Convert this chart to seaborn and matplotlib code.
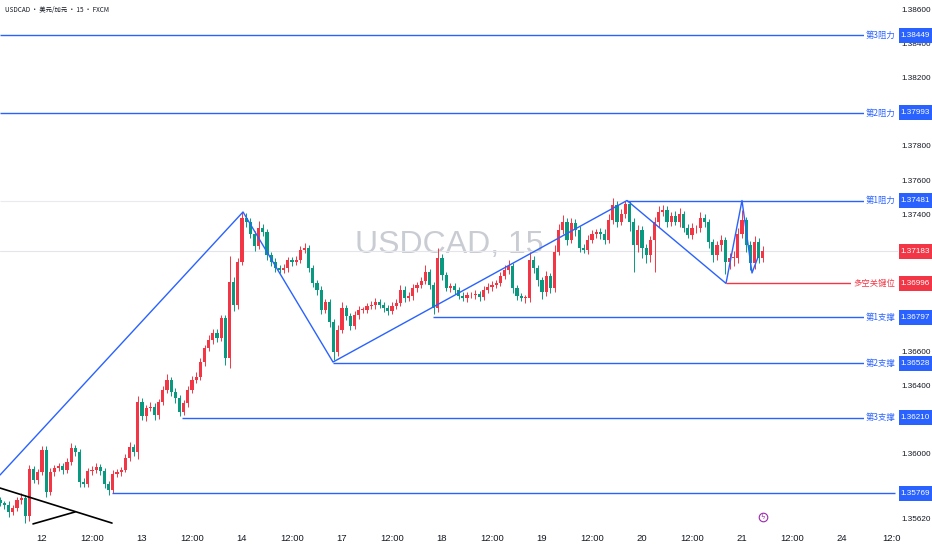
import numpy as np
import matplotlib
matplotlib.use("Agg")
import matplotlib.pyplot as plt
import matplotlib.transforms as mtransforms
from matplotlib.patches import Rectangle
from matplotlib import font_manager
import seaborn as sns

# ---------------- data (hourly candles) ----------------
first_open = 1.35729
close_prices = [
    1.35711, 1.35700, 1.35659, 1.35682, 1.35729, 1.35741, 1.35635, 1.35910, 1.35846, 1.35893, 1.36022, 1.35776,
    1.35893, 1.35916, 1.35928, 1.35905, 1.35951, 1.36033, 1.36010, 1.35834, 1.35823, 1.35899, 1.35905, 1.35922,
    1.35899, 1.35823, 1.35788, 1.35881, 1.35893, 1.35905, 1.35975, 1.36039, 1.36010, 1.36302, 1.36220, 1.36267,
    1.36273, 1.36226, 1.36302, 1.36373, 1.36431, 1.36361, 1.36326, 1.36244, 1.36296, 1.36373, 1.36431, 1.36449,
    1.36536, 1.36618, 1.36665, 1.36706, 1.36677, 1.36794, 1.36560, 1.37004, 1.36870, 1.37121, 1.37379, 1.37355,
    1.37285, 1.37215, 1.37320, 1.37297, 1.37162, 1.37121, 1.37086, 1.37075, 1.37086, 1.37133, 1.37121, 1.37133,
    1.37192, 1.37203, 1.37086, 1.36998, 1.36958, 1.36841, 1.36887, 1.36770, 1.36595, 1.36724, 1.36852, 1.36805,
    1.36747, 1.36811, 1.36841, 1.36841, 1.36864, 1.36870, 1.36887, 1.36870, 1.36852, 1.36835, 1.36864, 1.36881,
    1.36958, 1.36911, 1.36922, 1.36969, 1.36987, 1.37010, 1.37063, 1.36987, 1.36852, 1.37145, 1.37045, 1.36969,
    1.36981, 1.36958, 1.36922, 1.36911, 1.36928, 1.36928, 1.36934, 1.36917, 1.36958, 1.36975, 1.36987, 1.36998,
    1.37039, 1.37075, 1.37098, 1.36969, 1.36922, 1.36911, 1.36911, 1.37133, 1.37086, 1.37016, 1.36946, 1.37039,
    1.36969, 1.37180, 1.37309, 1.37355, 1.37250, 1.37349, 1.37309, 1.37203, 1.37192, 1.37250, 1.37285, 1.37297,
    1.37285, 1.37250, 1.37367, 1.37455, 1.37355, 1.37402, 1.37461, 1.37355, 1.37221, 1.37309, 1.37203, 1.37162,
    1.37250, 1.37355, 1.37414, 1.37426, 1.37355, 1.37390, 1.37355, 1.37402, 1.37320, 1.37279, 1.37320, 1.37320,
    1.37379, 1.37355, 1.37238, 1.37162, 1.37221, 1.37250, 1.37121, 1.37145, 1.37145, 1.37285, 1.37367, 1.37221,
    1.37115, 1.37238, 1.37145, 1.37183,
]
upper_wick_pts = [
    20, 15, 25, 18, 20, 30, 15, 25, 20, 18, 25, 20,
    22, 15, 20, 18, 25, 30, 20, 15, 25, 18, 20, 22,
    18, 20, 15, 25, 20, 18, 22, 30, 20, 35, 25, 20,
    30, 25, 20, 22, 35, 20, 25, 15, 20, 25, 22, 30,
    25, 20, 30, 22, 25, 20, 15, 150, 30, 25, 35, 30,
    25, 20, 40, 25, 20, 18, 22, 15, 25, 20, 18, 22,
    25, 30, 15, 20, 18, 25, 20, 15, 20, 30, 35, 20,
    18, 22, 25, 15, 20, 25, 22, 18, 20, 15, 22, 25,
    30, 20, 25, 22, 20, 25, 40, 20, 15, 60, 25, 20,
    18, 20, 15, 22, 20, 18, 25, 15, 20, 22, 25, 20,
    25, 30, 35, 20, 15, 18, 20, 45, 25, 20, 15, 30,
    20, 40, 35, 40, 25, 30, 25, 20, 25, 30, 25, 20,
    22, 30, 35, 40, 25, 30, 20, 20, 25, 30, 20, 25,
    25, 30, 35, 30, 20, 25, 30, 35, 20, 25, 30, 20,
    35, 25, 20, 15, 25, 30, 20, 30, 40, 35, 60, 20,
    25, 35, 25, 30,
]
lower_wick_pts = [
    20, 25, 30, 20, 18, 25, 40, 30, 20, 25, 15, 30,
    18, 25, 20, 22, 18, 15, 25, 30, 20, 18, 25, 20,
    22, 25, 30, 18, 20, 22, 15, 20, 25, 40, 25, 30,
    20, 30, 25, 20, 18, 25, 30, 25, 20, 22, 18, 20,
    20, 25, 18, 22, 25, 20, 40, 60, 35, 25, 20, 30,
    25, 30, 20, 25, 30, 22, 25, 20, 18, 25, 22, 20,
    20, 18, 25, 22, 30, 25, 20, 30, 45, 25, 20, 25,
    25, 20, 22, 18, 20, 15, 25, 20, 22, 25, 18, 20,
    20, 25, 18, 22, 25, 20, 18, 25, 35, 25, 30, 20,
    22, 25, 20, 18, 25, 20, 22, 25, 18, 20, 25, 20,
    20, 18, 25, 30, 25, 20, 30, 25, 30, 35, 40, 25,
    30, 25, 20, 25, 30, 20, 35, 25, 20, 25, 20, 25,
    30, 25, 20, 25, 30, 20, 25, 50, 160, 40, 60, 45,
    40, 190, 30, 25, 30, 25, 20, 30, 25, 20, 25, 30,
    25, 30, 35, 40, 30, 35, 70, 40, 50, 30, 25, 40,
    40, 35, 30, 25,
]

time_labels = ["12", "12:00", "13", "12:00", "14", "12:00", "17", "12:00", "18",
               "12:00", "19", "12:00", "20", "12:00", "21", "12:00", "24", "12:0"]

# zigzag (x in trading days from the 12th 00:00)
zigzag_day = [-0.42, 2.01, 2.91, 5.85, 6.84, 7.00, 7.10, 7.16]
zigzag_price = [1.35875, 1.37414, 1.36536, 1.37481, 1.36996, 1.37481, 1.37057, 1.37150]

triangle_a_day = [-0.42, 0.70]
triangle_a_price = [1.35799, 1.35594]
triangle_b_day = [-0.09, 0.33]
triangle_b_price = [1.35589, 1.35659]

level_names = ["第3阻力", "第2阻力", "第1阻力", "多空关键位", "第1支撑", "第2支撑", "第3支撑", ""]
level_values = [1.38449, 1.37993, 1.37481, 1.36996, 1.36797, 1.36528, 1.36210, 1.35769]
level_start_day = [-0.42, -0.42, 5.85, 6.84, 3.91, 2.91, 1.40, 0.70]

axis_ticks = [1.38600, 1.38400, 1.38200, 1.37800, 1.37600, 1.37400,
              1.36600, 1.36400, 1.36000, 1.35620]

title_text = "USDCAD · 美元/加元 · 15 · FXCM"
watermark = "USDCAD, 15"

# ---------------- style ----------------
sns.set_theme(style="white")
installed = {f.name for f in font_manager.fontManager.ttflist}
narrow_first = "Liberation Sans Narrow" if "Liberation Sans Narrow" in installed else "Liberation Sans"
CJK = ["Noto Sans CJK SC", "DejaVu Sans"]
NARROW = [narrow_first, "DejaVu Sans"]
plt.rcParams["font.family"] = CJK

UP = "#F23645"
DOWN = "#089981"
BLUE = "#2962FF"
RED = "#F23645"
TXT = "#131722"

W, H = 932, 550
fig = plt.figure(figsize=(W / 100, H / 100), dpi=100)
fig.patch.set_facecolor("white")
ax = fig.add_axes([0, 23 / H, 898 / W, 527 / H])
ax.set_facecolor("white")
for s in ax.spines.values():
    s.set_visible(False)

x_end = 8.56
ax.set_xlim(-0.42, x_end)
ax.set_ylim(1.35571, 1.38654)

# watermark
ax.text(4.07, 1.37221, watermark, ha="center", va="center", fontsize=23,
        family=NARROW, color="#c9ccd2", zorder=0)

# faint helper lines
current_price = close_prices[-1]
ax.axhline(current_price, color="#e3e5ea", lw=0.8, zorder=0.5)
ax.hlines(level_values[2], -0.42, level_start_day[2], color="#e8eaef", lw=0.8, zorder=0.5)

# candles
closes = np.array(close_prices)
opens = np.concatenate([[first_open], closes[:-1]])
highs = np.maximum(opens, closes) + np.array(upper_wick_pts) * 1e-5
lows = np.minimum(opens, closes) - np.array(lower_wick_pts) * 1e-5
t = (np.arange(len(closes)) - 10) / 24.0
colors = np.where(closes >= opens, UP, DOWN)
ax.vlines(t, lows, highs, colors=colors, lw=0.7, zorder=2)
body = np.maximum(np.abs(closes - opens), 0.00003)
ax.bar(t, body, bottom=np.minimum(opens, closes), width=0.031, color=colors,
       linewidth=0, zorder=3)

# zigzag trend lines
sns.lineplot(x=zigzag_day, y=zigzag_price, ax=ax, color=BLUE, lw=1.0,
             sort=False, estimator=None, zorder=4)
ax.plot(triangle_a_day, triangle_a_price, color="black", lw=1.2, zorder=4)
ax.plot(triangle_b_day, triangle_b_price, color="black", lw=1.2, zorder=4)

# levels with labels
label_right = 8.53
for name, v, st in zip(level_names, level_values, level_start_day):
    col = RED if name == "多空关键位" else BLUE
    ax.hlines(v, st, label_right, color=col, lw=1.0, zorder=4)
    if name:
        ax.text(label_right, v, name, ha="right", va="center", fontsize=6,
                color=col, family=CJK, zorder=6,
                bbox=dict(facecolor="white", edgecolor="none", pad=1.2))

# price axis
ax.yaxis.tick_right()
ax.set_yticks(axis_ticks)
ax.set_yticklabels([f"{v:.5f}" for v in axis_ticks], fontsize=5.9,
                   family=NARROW, color=TXT)
ax.tick_params(axis="y", length=0, pad=2.6)

ax.set_xticks(np.arange(len(time_labels)) * 0.5)
ax.set_xticklabels(time_labels, fontsize=6.8, family=NARROW, color=TXT)
ax.tick_params(axis="x", length=0, pad=5)

blend = mtransforms.blended_transform_factory(fig.transFigure, ax.transData)
box_h = 15 * (1.38654 - 1.35571) / 527
boxes = [(v, RED if n == "多空关键位" else BLUE) for n, v in zip(level_names, level_values)]
boxes.append((current_price, RED))
for v, col in boxes:
    ax.add_patch(Rectangle((899 / W, v - box_h / 2), 33 / W, box_h, transform=blend,
                           facecolor=col, edgecolor="none", clip_on=False, zorder=7))
    ax.text(915.5 / W, v, f"{v:.5f}", transform=blend, ha="center", va="center",
            color="white", fontsize=5.9, family=NARROW, zorder=8, clip_on=False)

# lightning marker
ax.scatter([7.21], [1.35630], s=38, facecolor="white", edgecolor="#9c27b0",
           linewidth=0.8, zorder=6, clip_on=False)
ax.text(7.21, 1.35630, "ϟ", ha="center", va="center", fontsize=5, color="#9c27b0",
        family=["DejaVu Sans"], zorder=7)

fig.text(5 / W, 1 - 10 / H, title_text, fontsize=4.6, color=TXT, family=CJK,
         ha="left", va="center")

fig.savefig("out.png", dpi=100, facecolor="white")
